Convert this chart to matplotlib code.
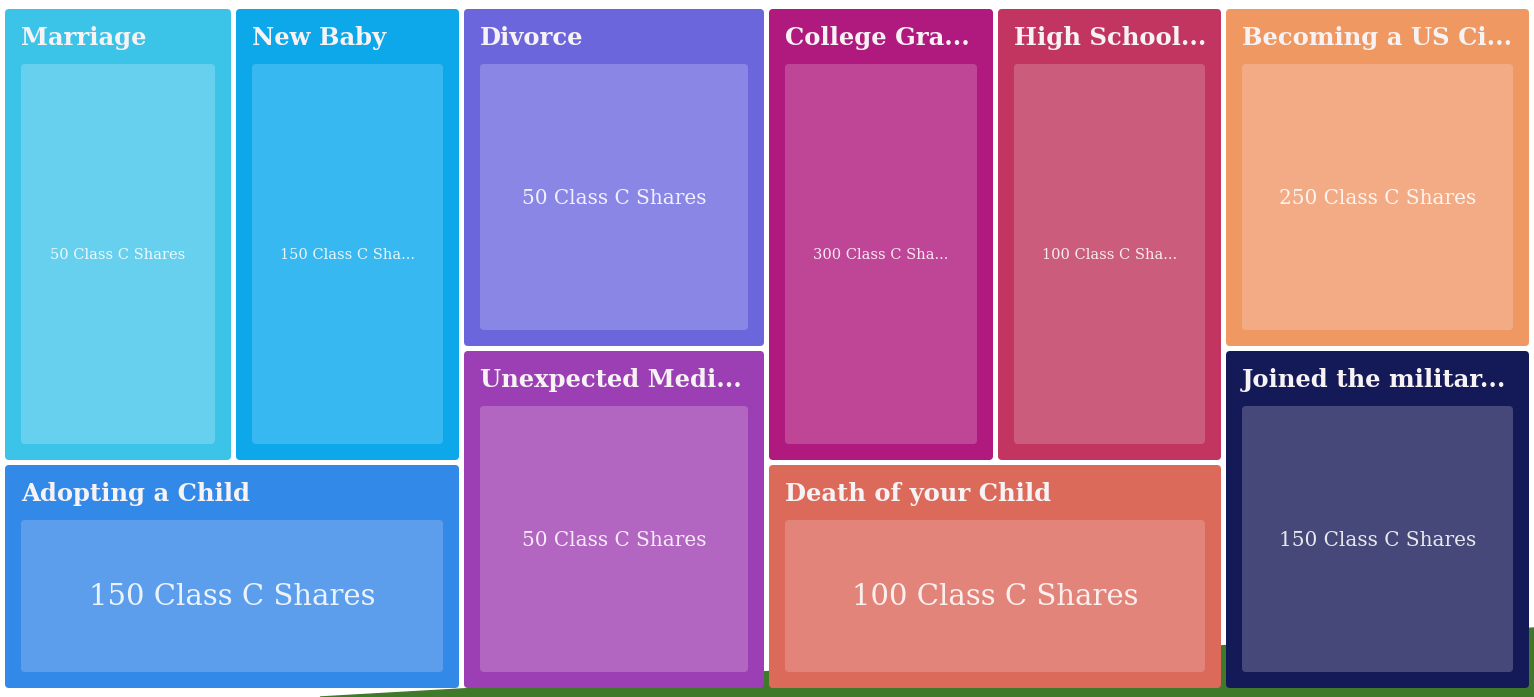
import matplotlib.pyplot as plt
from matplotlib.patches import FancyBboxPatch, Polygon

# tile labels as shown (truncated like the original widget)
titulos = [
    "Marriage", "New Baby", "Divorce", "Unexpected Medi...",
    "College Gra...", "High School...", "Becoming a US Ci...",
    "Joined the militar...", "Adopting a Child", "Death of your Child",
]
acciones = [50, 150, 50, 50, 300, 100, 250, 150, 150, 100]
recortado = [False, True, False, False, True, True, False, False, False, False]

colores_borde = [
    "#3cc4e8", "#0ca8ea", "#6b66dc", "#9c3fb4", "#b01a7e",
    "#c23560", "#ef9862", "#141a58", "#3389e8", "#dc6a5a",
]
colores_panel = [
    "#66d0ee", "#38b8f0", "#8a86e6", "#b266c2", "#bf4696",
    "#cc5c7c", "#f2ab84", "#454878", "#5c9eec", "#e2847a",
]

# layout of the tiles in pixels (x0, y0, x1, y1)
celdas = [
    (5, 9, 231, 460), (236, 9, 459, 460), (464, 9, 764, 346),
    (464, 351, 764, 688), (769, 9, 993, 460), (998, 9, 1221, 460),
    (1226, 9, 1529, 346), (1226, 351, 1529, 688), (5, 465, 459, 688),
    (769, 465, 1221, 688),
]
tam_valor = [10.5, 10.5, 14.4, 14.4, 10.5, 10.5, 14.4, 14.4, 21, 21]

W, H = 1534, 697
fig = plt.figure(figsize=(W / 100, H / 100), dpi=100)
ax = fig.add_axes([0, 0, 1, 1])
ax.set_xlim(0, W)
ax.set_ylim(H, 0)
ax.axis("off")

# green strip from the photo behind the widget
ax.add_patch(Polygon([(320, 697), (1534, 628), (1534, 697)],
                     closed=True, color="#3f7a2a", zorder=0))

for i, (x0, y0, x1, y1) in enumerate(celdas):
    ax.add_patch(FancyBboxPatch(
        (x0, y0), x1 - x0, y1 - y0,
        boxstyle="round,pad=0,rounding_size=4",
        facecolor=colores_borde[i], edgecolor="none", zorder=1))
    px0, py0, px1, py1 = x0 + 16, y0 + 55, x1 - 16, y1 - 16
    ax.add_patch(FancyBboxPatch(
        (px0, py0), px1 - px0, py1 - py0,
        boxstyle="round,pad=0,rounding_size=4",
        facecolor=colores_panel[i], edgecolor="none", zorder=2))
    ax.text(x0 + 16, y0 + 29, titulos[i], fontsize=17.5, fontweight="bold",
            family="DejaVu Serif", color="#f7f3f5", ha="left", va="center",
            zorder=3)
    valor = f"{acciones[i]} Class C Shares"
    if recortado[i]:
        valor = f"{acciones[i]} Class C Sha..."
    ax.text((px0 + px1) / 2, (py0 + py1) / 2 + 1, valor, fontsize=tam_valor[i],
            family="DejaVu Serif", color="white", alpha=0.88,
            ha="center", va="center", zorder=3)

fig.savefig("out.png", dpi=100, facecolor="white")
